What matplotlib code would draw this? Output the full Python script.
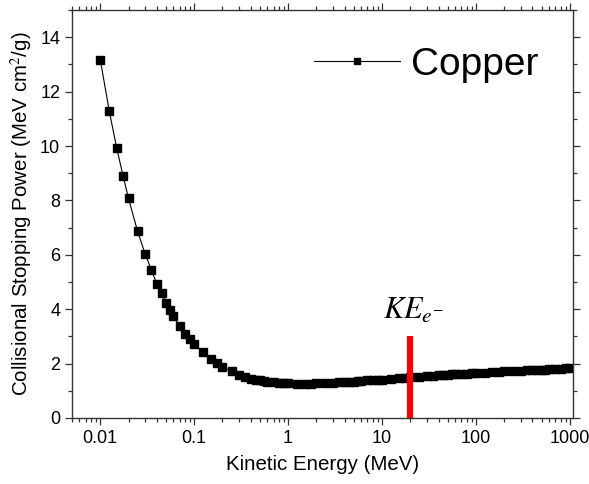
import matplotlib
matplotlib.use('Agg')
import matplotlib.pyplot as plt
from matplotlib.ticker import LogLocator, MultipleLocator, FixedFormatter, FixedLocator, NullFormatter

plt.rcParams['font.family'] = ['Liberation Sans', 'DejaVu Sans']
plt.rcParams['mathtext.fontset'] = 'stix'

# electron kinetic energy (MeV) and collisional stopping power of copper (MeV cm2/g)
energy = [0.01, 0.0125, 0.015, 0.0175, 0.02, 0.025, 0.03, 0.035, 0.04, 0.045,
          0.05, 0.055, 0.06, 0.07, 0.08, 0.09, 0.1, 0.125, 0.15, 0.175,
          0.2, 0.25, 0.3, 0.35, 0.4, 0.45, 0.5, 0.55, 0.6, 0.7,
          0.8, 0.9, 1, 1.25, 1.5, 1.75, 2, 2.5, 3, 3.5,
          4, 4.5, 5, 5.5, 6, 7, 8, 9, 10, 12.5,
          15, 17.5, 20, 25, 30, 35, 40, 45, 50, 55,
          60, 70, 80, 90, 100, 125, 150, 175, 200, 250,
          300, 350, 400, 450, 500, 550, 600, 700, 800, 900, 1000]
stopping = [13.18, 11.27, 9.91, 8.90, 8.07, 6.86, 6.04, 5.44, 4.94, 4.58,
            4.23, 3.96, 3.74, 3.37, 3.10, 2.90, 2.73, 2.42, 2.18, 2.01,
            1.88, 1.71, 1.59, 1.51, 1.45, 1.41, 1.38, 1.35, 1.33, 1.31,
            1.29, 1.28, 1.27, 1.26, 1.26, 1.26, 1.27, 1.28, 1.30, 1.31,
            1.32, 1.33, 1.34, 1.35, 1.36, 1.38, 1.39, 1.40, 1.41, 1.44,
            1.46, 1.48, 1.50, 1.52, 1.55, 1.56, 1.57, 1.58, 1.59, 1.60,
            1.61, 1.62, 1.63, 1.64, 1.65, 1.67, 1.69, 1.70, 1.71, 1.73,
            1.74, 1.75, 1.76, 1.77, 1.78, 1.78, 1.79, 1.80, 1.81, 1.82, 1.83]

ke_marker = 20      # MeV, electron kinetic energy marker
ke_height = 3.0

xtick_vals = [0.01, 0.1, 1, 10, 100, 1000]
xtick_labels = ['0.01', '0.1', '1', '10', '100', '1000']

fig = plt.figure(figsize=(5.89, 4.84), dpi=100)
ax = fig.add_axes([0.1222, 0.1364, 0.8506, 0.8429])

ax.plot(energy, stopping, color='black', lw=0.8, marker='s', ms=6.3,
        mfc='black', mec='black', label='Copper')
ax.plot([ke_marker, ke_marker], [0, ke_height], color='#ff0000', lw=4.5,
        solid_capstyle='butt')
ax.text(10.2, 3.65, r'$KE_{e^{-}}$', fontsize=22, ha='left', va='baseline')

ax.set_xscale('log')
ax.set_xlim(0.005, 1080)
ax.set_ylim(0, 15)

ax.xaxis.set_major_locator(FixedLocator(xtick_vals))
ax.xaxis.set_major_formatter(FixedFormatter(xtick_labels))
ax.xaxis.set_minor_locator(LogLocator(base=10, subs=range(2, 10), numticks=20))
ax.xaxis.set_minor_formatter(NullFormatter())
ax.yaxis.set_major_locator(MultipleLocator(2))
ax.yaxis.set_minor_locator(MultipleLocator(1))

ax.tick_params(which='both', direction='out', top=True, right=True,
               labeltop=False, labelright=False, labelsize=13, width=0.9,
               color='#333333')
ax.tick_params(which='major', length=5)
ax.tick_params(which='minor', length=3)
for s in ax.spines.values():
    s.set_linewidth(1.0)
    s.set_color('#333333')

ax.set_xlabel('Kinetic Energy (MeV)', fontsize=14.8, labelpad=6)
ax.set_ylabel('Collisional Stopping Power (MeV cm$^2$/g)', fontsize=14.8, labelpad=4)

leg = ax.legend(loc='center left', bbox_to_anchor=(0.483, 0.865), frameon=False,
                fontsize=28, handlelength=2.2, handletextpad=0.3,
                borderpad=0, borderaxespad=0, markerscale=0.7)

fig.savefig('out.png', dpi=100)
